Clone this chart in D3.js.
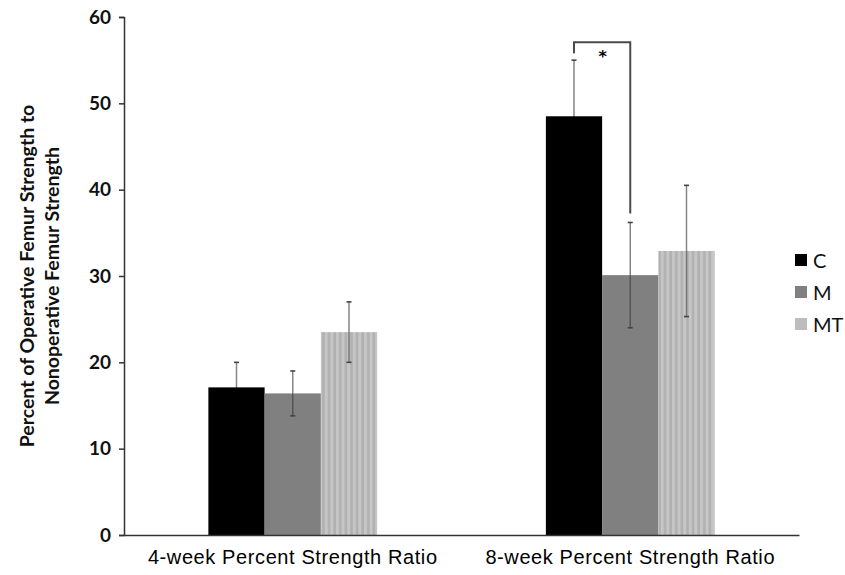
<!DOCTYPE html>
<html>
<head>
<meta charset="utf-8">
<script src="https://cdn.jsdelivr.net/npm/d3@7"></script>
<style>
  html, body { margin: 0; padding: 0; background: #fff; }
  svg { display: block; }
</style>
</head>
<body>
<svg id="chart" width="845" height="575"></svg>
<script>
// Femur strength ratio by group and time point
const categories = ["4-week Percent Strength Ratio", "8-week Percent Strength Ratio"];
const seriesNames = ["C", "M", "MT"];
const meanC  = [17.1, 48.5];
const meanM  = [16.4, 30.1];
const meanMT = [23.5, 32.9];
const errC   = [2.9, 6.5];
const errM   = [2.6, 6.1];
const errMT  = [3.5, 7.6];
const yTicks = [0, 10, 20, 30, 40, 50, 60];
const yTitle = ["Percent of Operative Femur Strength to", "Nonoperative Femur Strength"];
// significance bracket between C and M at 8 weeks
const sigCategory = "8-week Percent Strength Ratio";
const sigPair = ["C", "M"];
const sigLabel = "*";

const means = { C: meanC, M: meanM, MT: meanMT };
const errs = { C: errC, M: errM, MT: errMT };

const rows = [];
categories.forEach((cat, i) => {
  seriesNames.forEach(s => rows.push({ cat, s, v: means[s][i], e: errs[s][i] }));
});

const svg = d3.select("#chart");
const margin = { left: 124, right: 46, top: 17, bottom: 40 };
const W = 845, H = 575;

const x0 = d3.scaleBand().domain(categories).range([margin.left, W - margin.right]).padding(0);
const x1 = d3.scaleBand().domain(seriesNames).range([0, x0.bandwidth()]).paddingInner(0).paddingOuter(1.5);
const y = d3.scaleLinear().domain([0, 60]).range([H - margin.bottom, margin.top]);

// striped fill for MT
const defs = svg.append("defs");
const pat = defs.append("pattern")
  .attr("id", "stripes").attr("patternUnits", "userSpaceOnUse")
  .attr("width", 5.6).attr("height", 10);
pat.append("rect").attr("width", 5.6).attr("height", 10).attr("fill", "#c6c6c6");
pat.append("rect").attr("x", 3).attr("width", 2.6).attr("height", 10).attr("fill", "#b1b1b1");

const fills = { C: "#000000", M: "#808080", MT: "url(#stripes)" };
const legendFills = { C: "#000000", M: "#808080", MT: "#bdbdbd" };
const lowerErrColor = { C: "#000000", M: "#555555", MT: "#777777" };

// bars
svg.append("g").selectAll("rect").data(rows).join("rect")
  .attr("x", d => x0(d.cat) + x1(d.s))
  .attr("y", d => y(d.v))
  .attr("width", x1.bandwidth())
  .attr("height", d => y(0) - y(d.v))
  .attr("fill", d => fills[d.s]);

// error bars
const eg = svg.append("g");
rows.forEach(d => {
  const cx = x0(d.cat) + x1(d.s) + x1.bandwidth() / 2;
  eg.append("line").attr("x1", cx).attr("x2", cx)
    .attr("y1", y(d.v)).attr("y2", y(d.v + d.e))
    .attr("stroke", "#858585").attr("stroke-width", 1.5);
  eg.append("line").attr("x1", cx).attr("x2", cx)
    .attr("y1", y(d.v)).attr("y2", y(d.v - d.e))
    .attr("stroke", lowerErrColor[d.s]).attr("stroke-width", 1.5);
  [d.v + d.e, d.v - d.e].forEach((val, k) => {
    if (k === 1 && d.s === "C") return;
    eg.append("line").attr("x1", cx - 2.5).attr("x2", cx + 2.5)
      .attr("y1", y(val)).attr("y2", y(val))
      .attr("stroke", "#444").attr("stroke-width", 1.6);
  });
});

// significance bracket
const sigRowA = rows.find(r => r.cat === sigCategory && r.s === sigPair[0]);
const sigRowB = rows.find(r => r.cat === sigCategory && r.s === sigPair[1]);
const ax = x0(sigCategory) + x1(sigPair[0]) + x1.bandwidth() / 2;
const bx = x0(sigCategory) + x1(sigPair[1]) + x1.bandwidth() / 2;
const topY = y(sigRowA.v + sigRowA.e) - 18;
svg.append("path")
  .attr("d", `M${ax},${y(sigRowA.v + sigRowA.e) - 7}V${topY}H${bx}V${y(sigRowB.v + sigRowB.e) - 9}`)
  .attr("fill", "none").attr("stroke", "#4a4a4a").attr("stroke-width", 2);
svg.append("text")
  .attr("x", (ax + bx) / 2 + 0.5).attr("y", topY + 20)
  .attr("text-anchor", "middle")
  .attr("font-family", "'DejaVu Sans', sans-serif").attr("font-weight", "bold")
  .attr("font-size", 16).attr("fill", "#000").text(sigLabel);

// y axis
const yAxis = svg.append("g").attr("transform", `translate(${margin.left},0)`)
  .call(d3.axisLeft(y).tickValues(yTicks).tickSize(5).tickPadding(8));
yAxis.select(".domain").attr("stroke", "#333").attr("stroke-width", 1.5);
yAxis.selectAll(".tick line").attr("stroke", "#333").attr("stroke-width", 1.5);
yAxis.selectAll(".tick text")
  .attr("font-family", "Lato, 'Open Sans', sans-serif").attr("font-weight", "bold")
  .attr("font-size", 19).attr("fill", "#111");

// x axis
const xAxis = svg.append("g").attr("transform", `translate(0,${y(0)})`)
  .call(d3.axisBottom(x0).tickSize(0).tickPadding(15));
xAxis.select(".domain").attr("stroke", "#333").attr("stroke-width", 1.5);
xAxis.selectAll(".tick text")
  .attr("font-family", "'Liberation Sans', Arial, sans-serif")
  .attr("font-size", 20).attr("letter-spacing", "0.6px").attr("fill", "#000");

// y title
const yt = svg.append("text")
  .attr("transform", `translate(34,${(margin.top + y(0)) / 2}) rotate(-90)`)
  .attr("text-anchor", "middle")
  .attr("font-family", "Lato, 'Open Sans', sans-serif").attr("font-weight", "bold")
  .attr("font-size", 19.5).attr("fill", "#111");
yTitle.forEach((line, i) => {
  yt.append("tspan").attr("x", 0).attr("dy", i === 0 ? 0 : 25).text(line);
});

// legend
const lg = svg.append("g").attr("transform", "translate(795,254)");
seriesNames.forEach((s, i) => {
  const g = lg.append("g").attr("transform", `translate(0,${i * 32})`);
  g.append("rect").attr("width", 12).attr("height", 12).attr("fill", legendFills[s]);
  g.append("text").attr("x", 18).attr("y", 13.5)
    .attr("font-family", "Lato, 'Open Sans', sans-serif")
    .attr("font-size", 20).attr("fill", "#111").text(s);
});
</script>
</body>
</html>
